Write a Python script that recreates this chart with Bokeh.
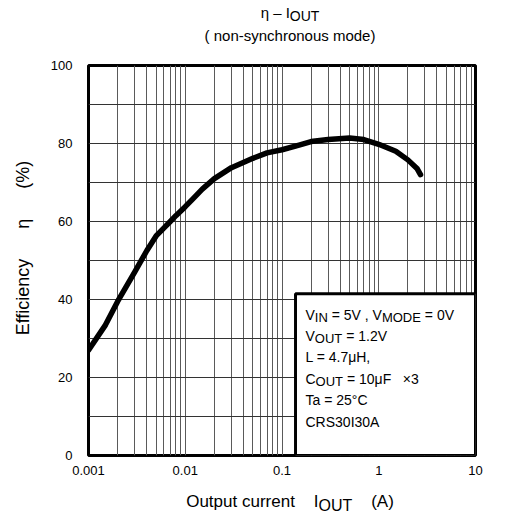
import math
from bokeh.plotting import figure
from bokeh.models import FixedTicker, Label, BoxAnnotation, Div
from bokeh.layouts import column
from bokeh.embed import file_html
from bokeh.resources import INLINE

# ---------------- data ----------------
iout = [0.001, 0.0015, 0.002, 0.003, 0.004, 0.005, 0.006, 0.007, 0.008, 0.01,
        0.012, 0.015, 0.02, 0.03, 0.05, 0.07, 0.1, 0.15, 0.2, 0.3, 0.5, 0.7,
        1.0, 1.5, 2.0, 2.5, 2.7]
eff = [27.0, 33.5, 39.5, 47.0, 52.5, 56.3, 58.3, 60.0, 61.5, 63.8,
       65.8, 68.3, 71.0, 73.8, 76.2, 77.6, 78.4, 79.6, 80.5, 81.0, 81.4, 81.0,
       79.8, 78.0, 75.8, 73.5, 72.0]

x_ticks = [0.001, 0.01, 0.1, 1, 10]
x_tick_labels = ["0.001", "0.01", "0.1", "1", "10"]
y_ticks = [0, 20, 40, 60, 80, 100]
y_tick_labels = ["0", "20", "40", "60", "80", "100"]
y_grid = [0, 10, 20, 30, 40, 50, 60, 70, 80, 90, 100]

title_main, title_sub = "η – I", "OUT"
subtitle = "( non-synchronous mode)"
x_label_main, x_label_sym, x_label_sub, x_label_unit = "Output current", "I", "OUT", "(A)"
y_label_parts = ["Efficiency", "η", "(%)"]
legend_lines = [
    [("V", 0), ("IN", 1), (" = 5V , V", 0), ("MODE", 1), (" = 0V", 0)],
    [("V", 0), ("OUT", 1), (" = 1.2V", 0)],
    [("L = 4.7μH,", 0)],
    [("C", 0), ("OUT", 1), (" = 10μF   ×3", 0)],
    [("Ta = 25°C", 0)],
    [("CRS30I30A", 0)],
]

FONT = "Liberation Sans"

# ---------------- layout geometry ----------------
W = 499
TH = 50            # title block height
FL, FR, FT, FB = 88, 475, 65, 455   # frame edges on the page
FH = 431           # figure height
XH = 28            # x-label block height

p = figure(width=W, height=FH, x_axis_type="log", x_range=(0.001, 10), y_range=(0, 100),
           output_backend="svg", toolbar_location=None,
           min_border_left=FL, min_border_right=W - FR,
           min_border_top=FT - TH, min_border_bottom=FH - (FB - TH))
p.background_fill_color = "white"
p.border_fill_color = "white"
p.outline_line_color = "black"
p.outline_line_width = 3

# axes
p.xaxis.ticker = FixedTicker(ticks=x_ticks)
p.xaxis.major_label_overrides = {t: l for t, l in zip(x_ticks, x_tick_labels)}
p.yaxis.ticker = FixedTicker(ticks=y_ticks)
p.yaxis.major_label_overrides = {t: l for t, l in zip(y_ticks, y_tick_labels)}
for ax in (p.xaxis[0], p.yaxis[0]):
    ax.axis_line_color = None
    ax.major_tick_line_color = None
    ax.minor_tick_line_color = None
    ax.major_tick_out = 0
    ax.major_tick_in = 0
    ax.major_label_text_font = FONT
    ax.major_label_text_font_size = "13px"
    ax.major_label_text_color = "black"
p.xaxis.major_label_standoff = 10
p.yaxis.major_label_standoff = 16

NB = "\u00a0"
p.yaxis.axis_label = NB * 5 + y_label_parts[0] + NB * 6 + y_label_parts[1] + NB * 6 + y_label_parts[2]
p.yaxis.axis_label_text_font = FONT
p.yaxis.axis_label_text_font_size = "18px"
p.yaxis.axis_label_text_font_style = "normal"
p.yaxis.axis_label_text_color = "black"
p.yaxis.axis_label_standoff = 15

# grid
grid_x = [m * 10.0 ** e for e in range(-3, 1) for m in range(1, 10)] + [10]
p.xgrid.ticker = FixedTicker(ticks=grid_x)
p.xgrid.grid_line_color = "#5a5a5a"
p.xgrid.grid_line_width = 1
p.ygrid.ticker = FixedTicker(ticks=y_grid)
p.ygrid.grid_line_color = "#333333"
p.ygrid.grid_line_width = 1

# curve
p.line(iout, eff, line_color="black", line_width=5.5, line_join="round", line_cap="round")

# condition box
p.add_layout(BoxAnnotation(left=0.138, right=10, bottom=0, top=41.5,
                           fill_color="white", fill_alpha=1.0,
                           line_color="black", line_width=3, line_alpha=1.0))

# ---------------- legend text inside the frame ----------------
AW = {' ': 278, '(': 333, ')': 333, ',': 278, '-': 333, '.': 278, '=': 584, '°': 400,
      'μ': 576, '×': 584, '–': 556, 'η': 556, '%': 889,
      'A': 667, 'C': 722, 'D': 722, 'E': 667, 'F': 611, 'H': 722, 'I': 278, 'L': 556,
      'M': 833, 'N': 722, 'O': 778, 'R': 722, 'S': 667, 'T': 611, 'U': 722, 'V': 667,
      'a': 556, 'c': 500, 'd': 556, 'e': 556, 'f': 278, 'h': 556, 'i': 222, 'm': 833,
      'n': 556, 'o': 556, 'p': 556, 'r': 333, 's': 500, 't': 278, 'u': 556, 'y': 500}
for d in "0123456789":
    AW[d] = 556


def tw(s, size):
    return sum(AW.get(c, 556) for c in s) * size / 1000.0


def put(text, px, py, size):
    p.add_layout(Label(x=0.001, y=0, x_offset=px - FL, y_offset=FB - py, text=text,
                       text_font=FONT, text_font_size=f"{size}px", text_color="black",
                       text_align="left", text_baseline="alphabetic"))


def rich(segs, x0, base, size, sub_size, drop):
    x = x0
    for t, s in segs:
        fs = sub_size if s else size
        by = base + (drop if s else 0)
        i = 0
        while i < len(t):
            if t[i] == ' ':
                x += tw(' ', fs)
                i += 1
                continue
            j = i
            while j < len(t) and not (t[j] == ' ' and (j + 1 == len(t) or t[j + 1] == ' ')):
                j += 1
            word = t[i:j]
            put(word, x, by, fs)
            x += tw(word, fs)
            i = j


for k, line in enumerate(legend_lines):
    rich(line, 305, 314 + k * 21.4, 14, 13, 3)

# ---------------- HTML text blocks (title and x label with subscripts) ----------------
FF = "font-family:'Liberation Sans',Arial,sans-serif;color:black;white-space:pre;"


def line_div(html, cx, base, size, width=320):
    top = base - 0.8465 * size
    return (f'<div style="position:absolute;left:{cx - width / 2:.1f}px;width:{width}px;'
            f'top:{top:.1f}px;text-align:center;font-size:{size}px;line-height:{size}px;">'
            f'{html}</div>')


def sub(t, size, drop):
    return f'<span style="position:relative;top:{drop}px;font-size:{size}px;">{t}</span>'


title_html = (f'<div style="position:relative;width:{W}px;height:{TH}px;{FF}">'
              + line_div(title_main + sub(title_sub, 14, 3), 290, 18, 15)
              + line_div(subtitle, 290, 41, 15)
              + '</div>')
title_div = Div(text=title_html, width=W, height=TH, margin=0)

xl_top = TH + FH
xl_html = (f'<div style="position:relative;width:{W}px;height:{XH}px;{FF}">'
           + line_div(x_label_main + "    " + x_label_sym + sub(x_label_sub, 16, 4) + "    " + x_label_unit,
                      290, 507 - xl_top, 17, width=380)
           + '</div>')
xlabel_div = Div(text=xl_html, width=W, height=XH, margin=0)

layout = column(title_div, p, xlabel_div, spacing=0)

open("out.html", "w").write(file_html(layout, INLINE))
